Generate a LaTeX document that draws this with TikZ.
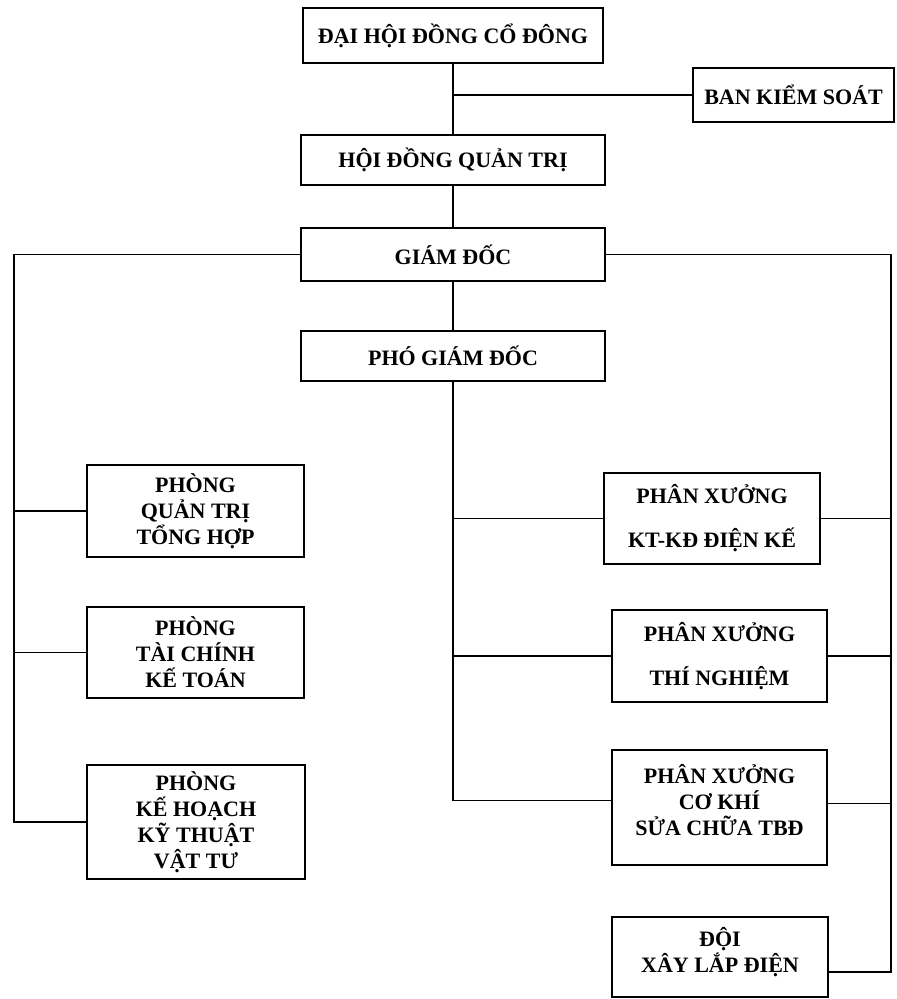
\documentclass[tikz,border=0pt]{standalone}
\usepackage{fontspec}
\setmainfont{Liberation Serif}
\begin{document}
\begin{tikzpicture}[x=1pt,y=-1pt,
  box/.style={draw, line width=1.3pt, inner sep=0pt, align=center,
    font=\fontsize{22}{26}\selectfont\bfseries},
  conn/.style={line width=1.3pt}]
\useasboundingbox (0,0) rectangle (897,999);
% top chain
\node[box, minimum width=300pt, minimum height=55pt] (A) at (453,35.5) {ĐẠI HỘI ĐỒNG CỔ ĐÔNG};
\node[box, minimum width=201pt, minimum height=54pt] (K) at (793.5,95) {BAN KIỂM SOÁT};
\node[box, minimum width=304pt, minimum height=50pt] (B) at (453,160) {HỘI ĐỒNG QUẢN TRỊ};
\node[box, minimum width=304pt, minimum height=53pt] (C) at (453,254.5) {GIÁM ĐỐC};
\node[box, minimum width=304pt, minimum height=50pt] (D) at (453,356) {PHÓ GIÁM ĐỐC};
% left column
\node[box, minimum width=217pt, minimum height=92pt] (L1) at (195.5,511) {PHÒNG\\QUẢN TRỊ\\TỔNG HỢP};
\node[box, minimum width=217pt, minimum height=91pt] (L2) at (195.5,652.5) {PHÒNG\\TÀI CHÍNH\\KẾ TOÁN};
\node[box, minimum width=218pt, minimum height=114pt] (L3) at (196,822) {PHÒNG\\KẾ HOẠCH\\KỸ THUẬT\\VẬT TƯ};
% right column
\node[box, minimum width=216pt, minimum height=91pt] (R1) at (712,518.5) {PHÂN XƯỞNG\\[18pt]KT-KĐ ĐIỆN KẾ};
\node[box, minimum width=215pt, minimum height=92pt] (R2) at (719.5,656) {PHÂN XƯỞNG\\[18pt]THÍ NGHIỆM};
\node[box, minimum width=215pt, minimum height=115pt] (R3) at (719.5,807.5) {PHÂN XƯỞNG\\CƠ KHÍ\\SỬA CHỮA TBĐ\\[-10pt]\mbox{}};
\node[box, minimum width=216pt, minimum height=80pt] (R4) at (720,957) {ĐỘI\\XÂY LẮP ĐIỆN\\[-12pt]\mbox{}};
% helper coordinates
\coordinate (lvx) at (14,0);
\coordinate (rvx) at (891,0);
\coordinate (kj) at (453,95);
\coordinate (r4e) at ([yshift=-15pt]R4.east);
\coordinate (r3e) at ([yshift=4pt]R3.east);
\coordinate (r3w) at ([yshift=7pt]R3.west);
% connectors
\draw[conn] (A.south) -- (B.north);
\draw[conn] (kj) -- (K.west);
\draw[conn] (B.south) -- (C.north);
\draw[conn] (C.south) -- (D.north);
\draw[conn] (C.west) -| (lvx |- L3.west) -- (L3.west);
\draw[conn] (lvx |- L1.west) -- (L1.west);
\draw[conn] (lvx |- L2.west) -- (L2.west);
\draw[conn] (C.east) -| (rvx |- r4e) -- (r4e);
\draw[conn] (rvx |- R1.east) -- (R1.east);
\draw[conn] (rvx |- R2.east) -- (R2.east);
\draw[conn] (rvx |- r3e) -- (r3e);
\draw[conn] (D.south) -- (D.south |- r3w) -- (r3w);
\draw[conn] (D.south |- R1.west) -- (R1.west);
\draw[conn] (D.south |- R2.west) -- (R2.west);
\end{tikzpicture}
\end{document}
